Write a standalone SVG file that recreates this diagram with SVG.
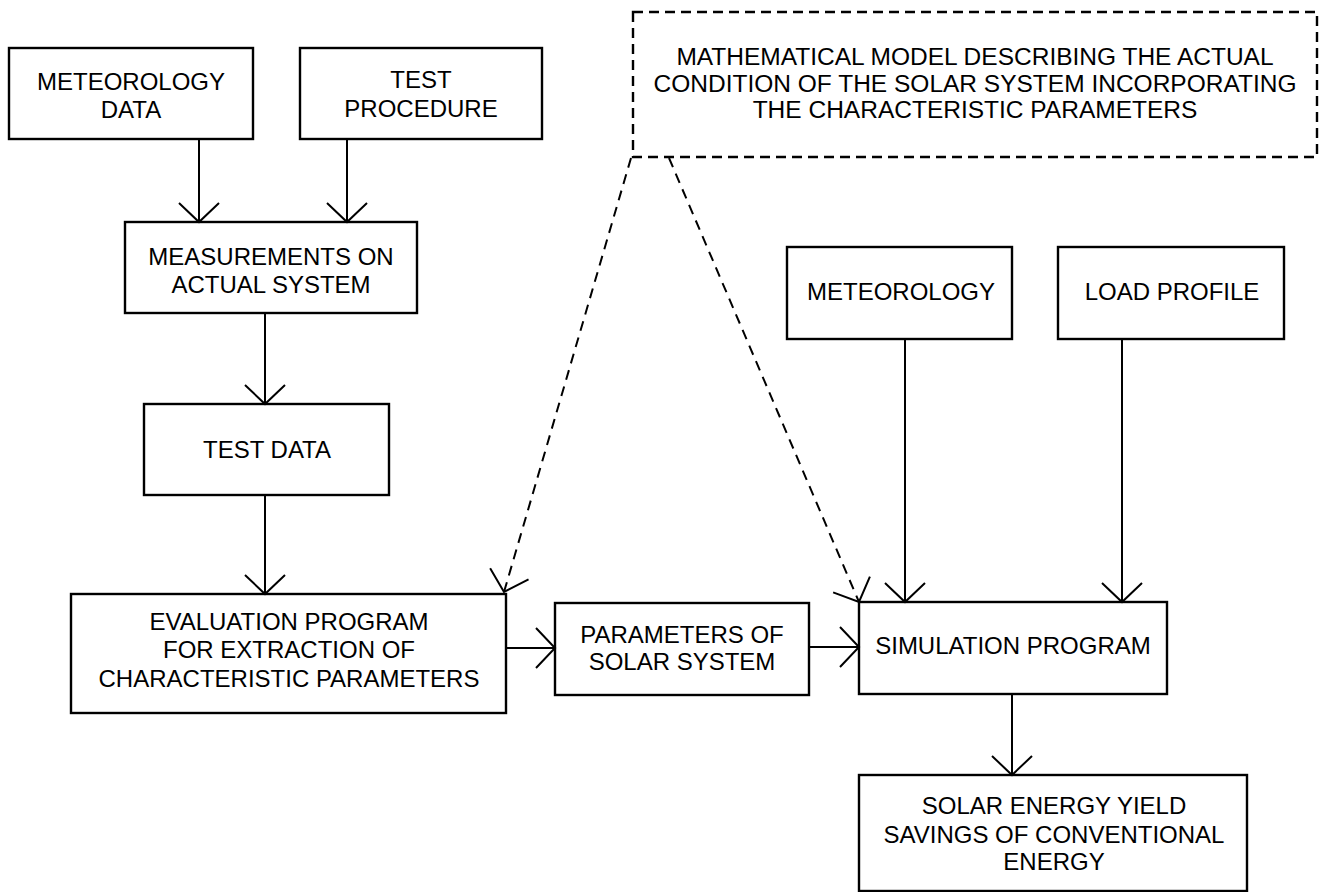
<svg xmlns="http://www.w3.org/2000/svg" width="1320" height="892" viewBox="0 0 1320 892">
<style>
.box{fill:none;stroke:#000;stroke-width:2.4}
.dbox{fill:none;stroke:#000;stroke-width:2.4;stroke-dasharray:10 6}
.t{font-family:"Liberation Sans",Arial,sans-serif;font-size:24px;fill:#000;text-anchor:middle}
.tl{font-size:24.5px}
.c{fill:none;stroke:#000;stroke-width:2;marker-end:url(#arr)}
.cd{fill:none;stroke:#000;stroke-width:2;stroke-dasharray:10 7;marker-end:url(#arr)}
</style>
<defs>
<marker id="arr" markerUnits="userSpaceOnUse" orient="auto" refX="0" refY="0" markerWidth="60" markerHeight="60" viewBox="-30 -30 60 60" overflow="visible">
<path d="M-19,-20 L0,0 L-19,20" fill="none" stroke="#000" stroke-width="2"/>
</marker>
</defs>
<rect width="1320" height="892" fill="#fff"/>
<g id="connectors">
<line class="c" x1="199" y1="139" x2="199" y2="222"/>
<line class="c" x1="347" y1="139" x2="347" y2="222"/>
<line class="c" x1="265" y1="313" x2="265" y2="404"/>
<line class="c" x1="265" y1="495" x2="265" y2="594"/>
<line class="c" x1="506" y1="648" x2="555" y2="648"/>
<line class="c" x1="809" y1="647" x2="859" y2="647"/>
<line class="c" x1="905" y1="339" x2="905" y2="602"/>
<line class="c" x1="1122" y1="339" x2="1122" y2="602"/>
<line class="c" x1="1012" y1="694" x2="1012" y2="775"/>
<line class="cd" x1="631" y1="158" x2="504" y2="592"/>
<line class="cd" x1="669" y1="158" x2="859" y2="602"/>
</g>
<g id="met_data">
<rect class="box" x="9" y="48" width="244" height="91"/>
<text class="t" x="131" y="90">METEOROLOGY</text>
<text class="t" x="131" y="118">DATA</text>
</g>
<g id="test_procedure">
<rect class="box" x="300" y="48" width="242" height="91"/>
<text class="t" x="421" y="88">TEST</text>
<text class="t" x="421" y="117">PROCEDURE</text>
</g>
<g id="measurements">
<rect class="box" x="125" y="222" width="292" height="91"/>
<text class="t" x="271" y="265">MEASUREMENTS ON</text>
<text class="t" x="271" y="293">ACTUAL SYSTEM</text>
</g>
<g id="test_data">
<rect class="box" x="144" y="404" width="245" height="91"/>
<text class="t" x="267" y="458">TEST DATA</text>
</g>
<g id="evaluation">
<rect class="box" x="71" y="594" width="435" height="119"/>
<text class="t" x="289" y="630">EVALUATION PROGRAM</text>
<text class="t" x="289" y="658">FOR EXTRACTION OF</text>
<text class="t" x="289" y="687">CHARACTERISTIC PARAMETERS</text>
</g>
<g id="parameters">
<rect class="box" x="555" y="603" width="254" height="92"/>
<text class="t" x="682" y="643">PARAMETERS OF</text>
<text class="t" x="682" y="670">SOLAR SYSTEM</text>
</g>
<g id="model">
<rect class="dbox" x="633" y="12" width="684" height="145"/>
<text class="t tl" x="975" y="65">MATHEMATICAL MODEL DESCRIBING THE ACTUAL</text>
<text class="t tl" x="975" y="92">CONDITION OF THE SOLAR SYSTEM INCORPORATING</text>
<text class="t tl" x="975" y="118">THE CHARACTERISTIC PARAMETERS</text>
</g>
<g id="meteorology">
<rect class="box" x="787" y="247" width="225" height="92"/>
<text class="t" x="901" y="300">METEOROLOGY</text>
</g>
<g id="load_profile">
<rect class="box" x="1058" y="247" width="226" height="92"/>
<text class="t" x="1172" y="300">LOAD PROFILE</text>
</g>
<g id="simulation">
<rect class="box" x="859" y="602" width="308" height="92"/>
<text class="t" x="1013" y="654">SIMULATION PROGRAM</text>
</g>
<g id="solar_yield">
<rect class="box" x="859" y="775" width="388" height="116"/>
<text class="t" x="1054" y="814">SOLAR ENERGY YIELD</text>
<text class="t" x="1054" y="843">SAVINGS OF CONVENTIONAL</text>
<text class="t" x="1054" y="870">ENERGY</text>
</g>
</svg>
